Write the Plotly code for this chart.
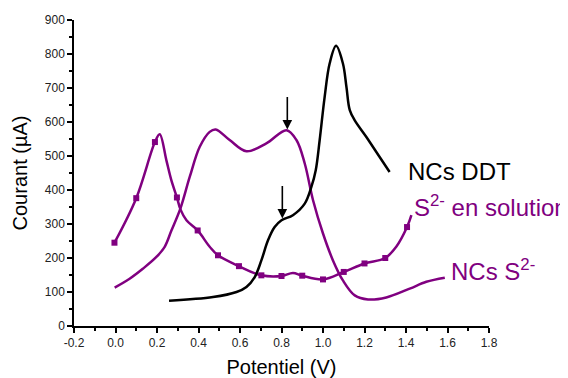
import plotly.graph_objects as go

# ---- data ----
sol_line_x = [-0.005, 0.1, 0.19, 0.213, 0.245, 0.269, 0.296, 0.313, 0.342, 0.396, 0.454, 0.494,
              0.595, 0.703, 0.8, 0.855, 0.9, 1.0, 1.1, 1.2, 1.3, 1.353, 1.405, 1.426]
sol_line_y = [245, 376, 541, 564, 488, 429, 378, 343, 311, 281, 233, 208,
              176, 149, 147, 156, 148, 137, 159, 184, 200, 233, 291, 326]
sol_mark_x = [-0.005, 0.1, 0.19, 0.296, 0.396, 0.494, 0.595, 0.703, 0.8, 0.9, 1.0, 1.1, 1.2, 1.3, 1.405]
sol_mark_y = [245, 376, 541, 378, 281, 208, 176, 149, 147, 148, 137, 159, 184, 200, 291]

ncs_s_x = [-0.004, 0.068, 0.133, 0.197, 0.237, 0.269, 0.313, 0.358, 0.406, 0.454, 0.483, 0.55,
           0.631, 0.727, 0.824, 0.872, 0.912, 0.952, 1.0, 1.048, 1.096, 1.153, 1.217, 1.305,
           1.418, 1.498, 1.587]
ncs_s_y = [113, 139, 169, 203, 233, 280, 346, 439, 527, 571, 578, 547,
           514, 537, 576, 547, 478, 370, 272, 193, 134, 90, 78, 84,
           110, 130, 142]

ddt_x = [0.258, 0.47, 0.583, 0.631, 0.671, 0.703, 0.735, 0.767, 0.80, 0.855, 0.912, 0.944,
         0.965, 0.984, 1.008, 1.032, 1.063, 1.096, 1.113, 1.129, 1.153, 1.209, 1.273, 1.321]
ddt_y = [74, 85, 100, 115, 144, 193, 252, 291, 311, 326, 360, 409,
         458, 547, 674, 772, 824, 772, 703, 635, 605, 556, 497, 453]

x_tick_vals = [-0.2, 0.0, 0.2, 0.4, 0.6, 0.8, 1.0, 1.2, 1.4, 1.6, 1.8]
x_tick_text = ["-0.2", "0.0", "0.2", "0.4", "0.6", "0.8", "1.0", "1.2", "1.4", "1.6", "1.8"]
y_tick_vals = [0, 100, 200, 300, 400, 500, 600, 700, 800, 900]

PURPLE = "#800080"
FONT = "Arial, Liberation Sans, sans-serif"

fig = go.Figure()
fig.add_trace(go.Scatter(x=ncs_s_x, y=ncs_s_y, mode="lines", line=dict(color=PURPLE, width=2.5, shape="spline"),
                         showlegend=False))
fig.add_trace(go.Scatter(x=sol_line_x, y=sol_line_y, mode="lines", line=dict(color=PURPLE, width=2.5, shape="spline"),
                         showlegend=False))
fig.add_trace(go.Scatter(x=sol_mark_x, y=sol_mark_y, mode="markers",
                         marker=dict(symbol="square", size=6, color=PURPLE), showlegend=False))
fig.add_trace(go.Scatter(x=ddt_x, y=ddt_y, mode="lines", line=dict(color="black", width=2.5, shape="spline"),
                         showlegend=False))

# arrows pointing at the shoulder/peak points of the curves
peak_i = ncs_s_x.index(0.824)
shoulder_i = ddt_x.index(0.80)
for (px, py) in [(ncs_s_x[peak_i] + 0.004, ncs_s_y[peak_i] + 2), (ddt_x[shoulder_i] + 0.004, ddt_y[shoulder_i] + 5)]:
    fig.add_annotation(x=px, y=py, ax=px, ay=py + 100, xref="x", yref="y", axref="x", ayref="y",
                       showarrow=True, arrowhead=2, arrowsize=1.2, arrowwidth=1.6, arrowcolor="black", text="")

labels = [("NCs DDT", 1.40, 455, "black"),
          ("S<sup>2-</sup> en solution", 1.428, 352, PURPLE),
          ("NCs S<sup>2-</sup>", 1.605, 164, PURPLE)]
for t, lx, ly, c in labels:
    fig.add_annotation(x=lx, y=ly, xref="x", yref="y", text=t, showarrow=False, xanchor="left", yanchor="middle",
                       font=dict(family=FONT, size=24, color=c))

axis_common = dict(showline=True, linecolor="black", linewidth=1.5, ticks="outside", ticklen=5,
                   tickwidth=1.5, tickcolor="black", showgrid=False, zeroline=False, mirror=False,
                   automargin=False, tickfont=dict(family=FONT, size=12, color="#222"))
fig.update_xaxes(range=[-0.2, 1.8], tickvals=x_tick_vals, ticktext=x_tick_text,
                 minor=dict(ticks="outside", ticklen=3, tickwidth=1.5, tickcolor="black", dtick=0.1, tick0=-0.2),
                 title=dict(text="Potentiel (V)", font=dict(family=FONT, size=20, color="black"), standoff=14),
                 **axis_common)
fig.update_yaxes(range=[0, 900], tickvals=y_tick_vals,
                 minor=dict(ticks="outside", ticklen=3, tickwidth=1.5, tickcolor="black", dtick=50, tick0=0),
                 title=dict(text="Courant (µA)", font=dict(family=FONT, size=20, color="black"), standoff=12),
                 **axis_common)
fig.update_layout(width=560, height=370, margin=dict(l=66, r=79, t=12, b=52, autoexpand=False),
                  plot_bgcolor="white", paper_bgcolor="white", font=dict(family=FONT))
fig.write_html("out.html")
